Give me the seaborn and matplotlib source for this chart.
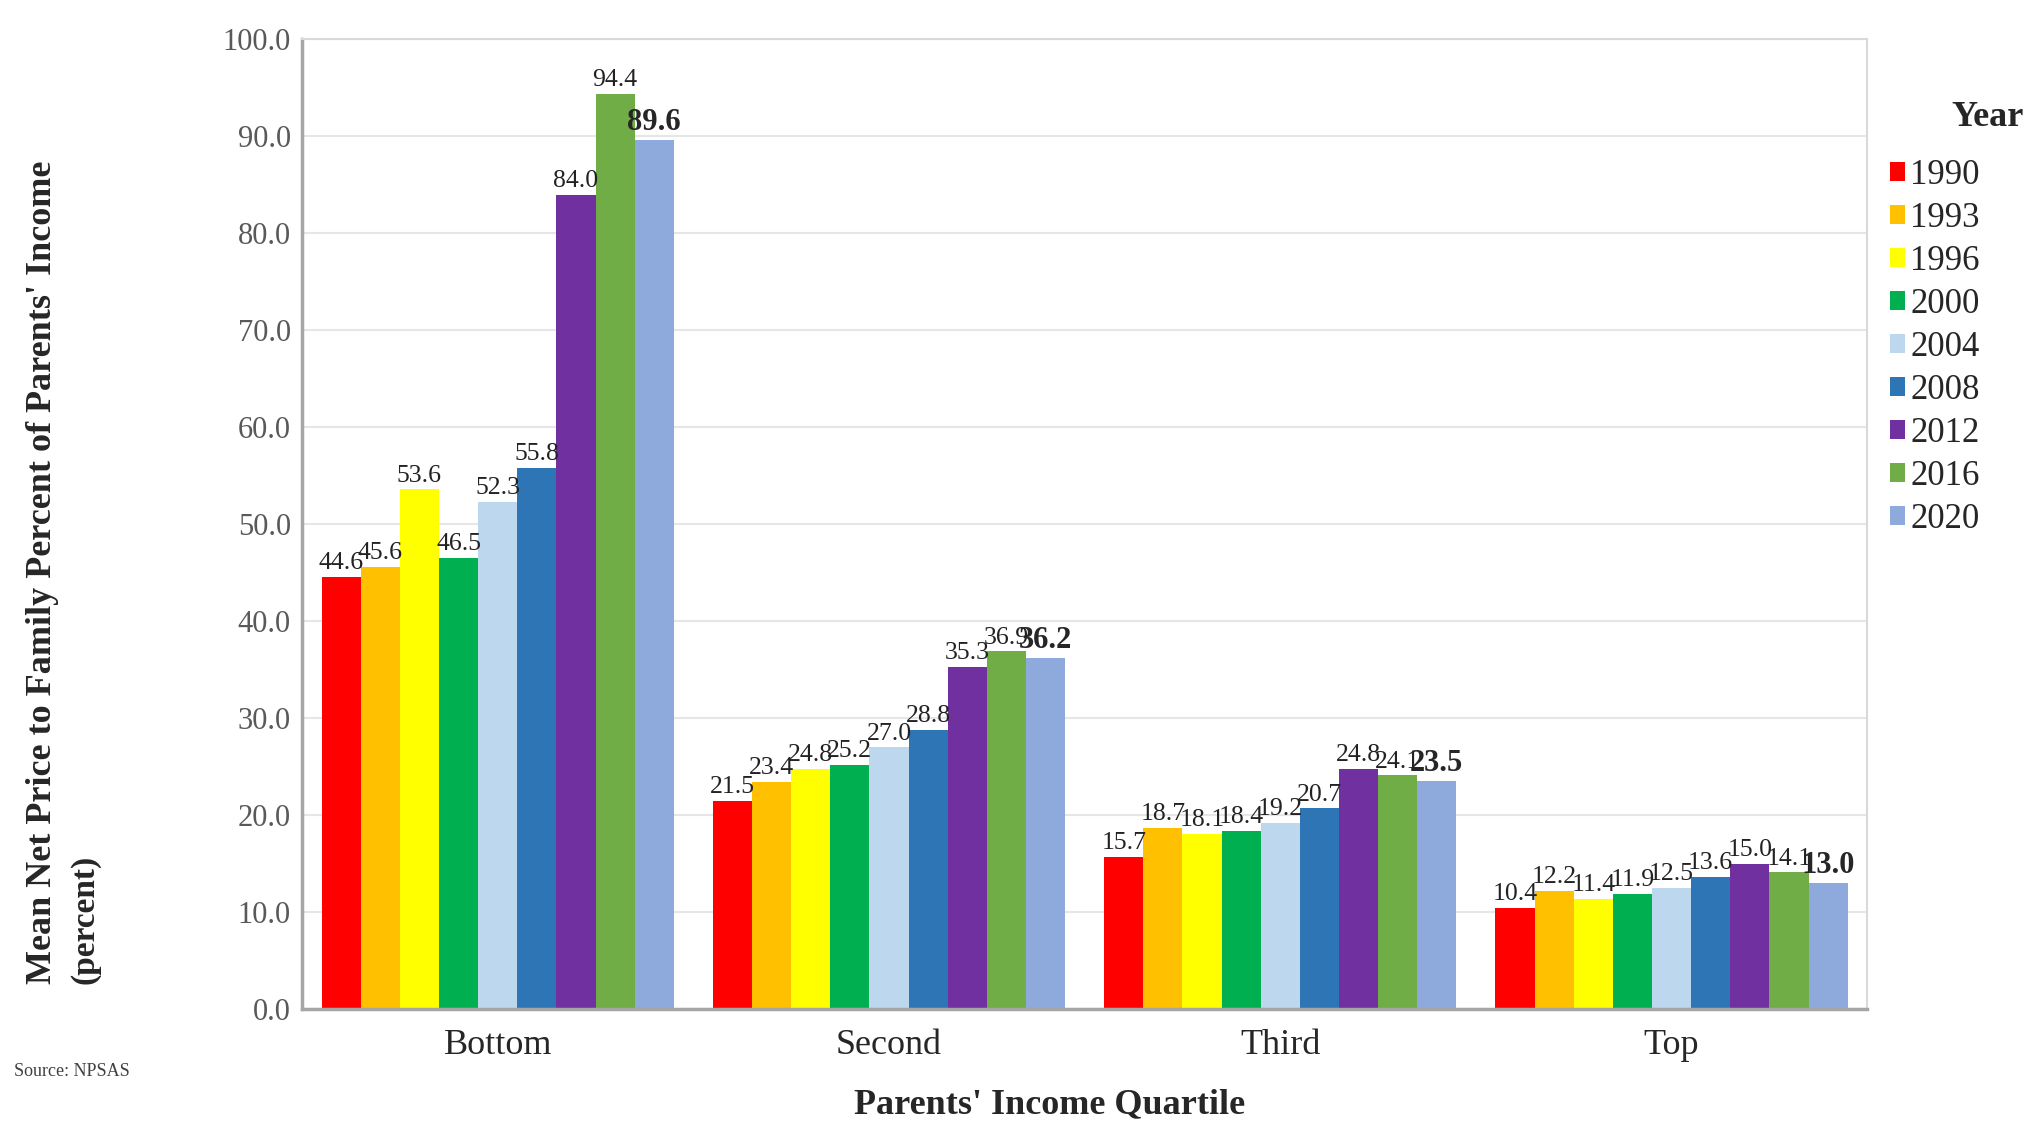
import numpy as np
import pandas as pd
import matplotlib
matplotlib.use("Agg")
import matplotlib.pyplot as plt
import seaborn as sns

quartiles = ["Bottom", "Second", "Third", "Top"]
years = ["1990", "1993", "1996", "2000", "2004", "2008", "2012", "2016", "2020"]

# one list per year, values for Bottom, Second, Third, Top
y1990 = [44.6, 21.5, 15.7, 10.4]
y1993 = [45.6, 23.4, 18.7, 12.2]
y1996 = [53.6, 24.8, 18.1, 11.4]
y2000 = [46.5, 25.2, 18.4, 11.9]
y2004 = [52.3, 27.0, 19.2, 12.5]
y2008 = [55.8, 28.8, 20.7, 13.6]
y2012 = [84.0, 35.3, 24.8, 15.0]
y2016 = [94.4, 36.9, 24.1, 14.1]
y2020 = [89.6, 36.2, 23.5, 13.0]

colors = ["#FF0000", "#FFC000", "#FFFF00", "#00B050", "#BDD7EE",
          "#2E75B6", "#7030A0", "#70AD47", "#8EA9DB"]

series = [y1990, y1993, y1996, y2000, y2004, y2008, y2012, y2016, y2020]
rows = []
for yr, vals in zip(years, series):
    for q, v in zip(quartiles, vals):
        rows.append({"quartile": q, "year": yr, "value": v})
df = pd.DataFrame(rows)

sns.set_style("white")
plt.rcParams["font.family"] = ["Liberation Serif", "DejaVu Serif"]

fig = plt.figure(figsize=(20.34, 11.25), dpi=100)
ax = fig.add_axes([0.1485, 0.103, 0.7695, 0.862])

sns.barplot(data=df, x="quartile", y="value", hue="year", order=quartiles,
            hue_order=years, palette=colors, saturation=1, width=0.9,
            errorbar=None, linewidth=0, ax=ax)

for i, cont in enumerate(ax.containers):
    if i == len(ax.containers) - 1:
        ax.bar_label(cont, fmt="%.1f", padding=2, fontsize=22, fontweight="bold")
    else:
        ax.bar_label(cont, fmt="%.1f", padding=2, fontsize=18.5, color="#222222")

ax.set_ylim(0, 100)
ax.set_yticks(np.arange(0, 101, 10))
ax.set_yticklabels([f"{t:.1f}" for t in np.arange(0, 101, 10)], fontsize=22, color="#595959")
ax.set_xlim(-0.5, 3.5)
ax.set_xticks(range(4))
ax.set_xticklabels(quartiles, fontsize=26)
ax.set_xticks([-0.5, 0.5, 1.5, 2.5, 3.5], minor=True)
ax.tick_params(axis="x", which="major", length=0, pad=14)
ax.tick_params(axis="x", which="minor", length=8, direction="inout", color="#808080")
ax.tick_params(axis="y", length=0, pad=8)
ax.grid(axis="y", color="#e6e6e6", linewidth=1.5)
ax.set_axisbelow(True)
for s in ["top", "right"]:
    ax.spines[s].set_color("#d9d9d9")
    ax.spines[s].set_linewidth(1.5)
for s in ["left", "bottom"]:
    ax.spines[s].set_color("#a6a6a6")
    ax.spines[s].set_linewidth(2.5)
ax.set_xlabel("")
ax.set_ylabel("")

handles, labels = ax.get_legend_handles_labels()
ax.legend_.remove()
fig.legend(handles, labels, loc="upper left", bbox_to_anchor=(0.929, 0.859),
           bbox_transform=fig.transFigure, frameon=False, fontsize=25,
           labelspacing=0.29, handlelength=0.45, handleheight=0.45,
           handletextpad=0.15, borderaxespad=0, borderpad=0)
fig.text(0.977, 0.896, "Year", ha="center", va="center", fontsize=26,
         fontweight="bold")

fig.text(0.021, 0.125, "Mean Net Price to Family Percent of Parents' Income",
         rotation=90, ha="center", va="bottom", fontsize=26, fontweight="bold")
fig.text(0.042, 0.125, "(percent)", rotation=90, ha="center", va="bottom",
         fontsize=24, fontweight="bold")
fig.text(0.516, 0.018, "Parents' Income Quartile", ha="center", va="center",
         fontsize=26, fontweight="bold")
fig.text(0.007, 0.048, "Source: NPSAS", ha="left", va="center", fontsize=13,
         color="#404040")

fig.savefig("out.png", dpi=100)
